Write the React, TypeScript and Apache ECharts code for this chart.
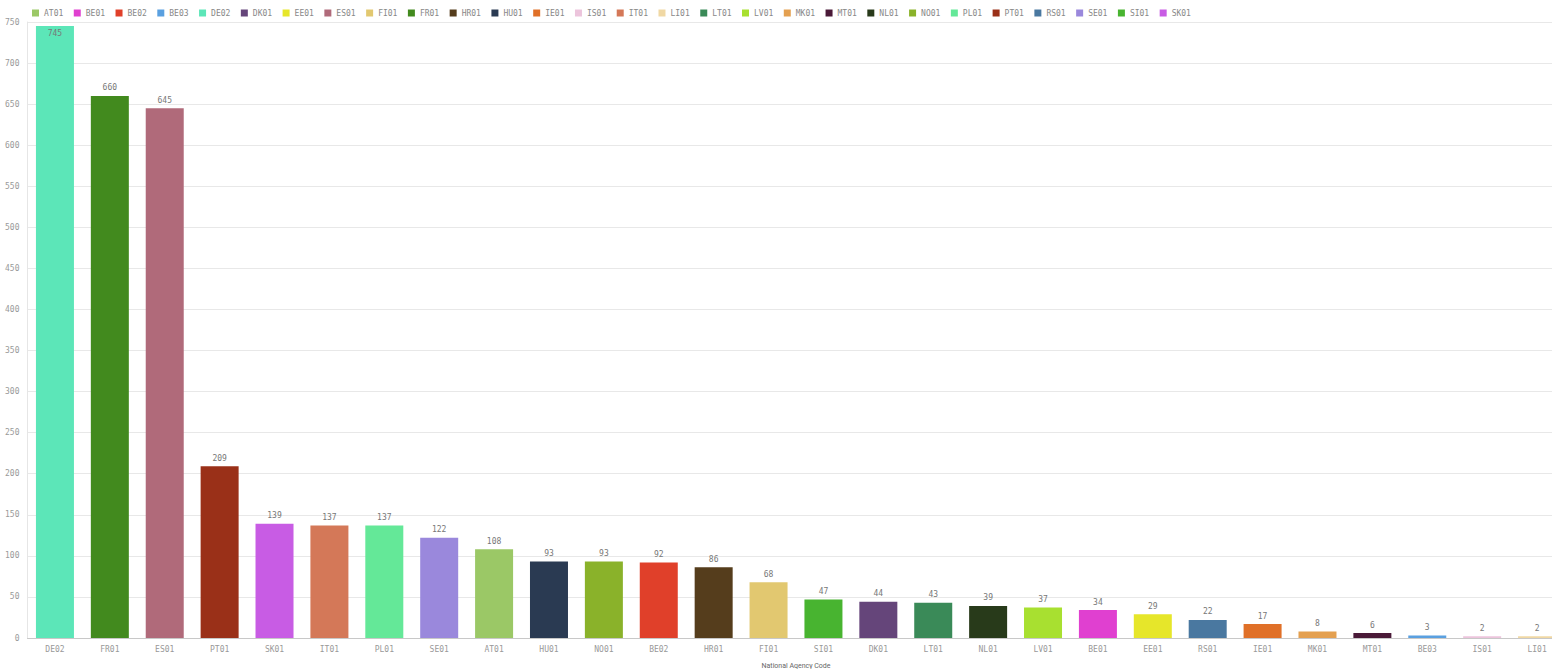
import React, { useEffect, useRef } from "react";
import * as echarts from "echarts";

const categories = ["DE02","FR01","ES01","PT01","SK01","IT01","PL01","SE01","AT01","HU01","NO01","BE02","HR01","FI01","SI01","DK01","LT01","NL01","LV01","BE01","EE01","RS01","IE01","MK01","MT01","BE03","IS01","LI01"];
const values = [745,660,645,209,139,137,137,122,108,93,93,92,86,68,47,44,43,39,37,34,29,22,17,8,6,3,2,2];
const legendCodes = ["AT01","BE01","BE02","BE03","DE02","DK01","EE01","ES01","FI01","FR01","HR01","HU01","IE01","IS01","IT01","LI01","LT01","LV01","MK01","MT01","NL01","NO01","PL01","PT01","RS01","SE01","SI01","SK01"];
const legendColors = ["#9bc866","#e040d0","#e0402a","#5aa0e0","#5ce6b8","#65457a","#e6e62a","#b06a7a","#e2c870","#428a1e","#553d1c","#2a3a52","#e07028","#ecc4dc","#d47858","#f0d8a4","#3a8a58","#a8e030","#e4a050","#4a1a38","#283a1a","#8ab22a","#64e898","#9a3018","#4a78a0","#9a88dc","#48b430","#c85ce4"];
const yTicks = { min: 0, max: 750, interval: 50 };

export default function App() {
  const ref = useRef<HTMLDivElement>(null);
  useEffect(() => {
    const chart = echarts.init(ref.current!, undefined, { renderer: "svg" });
    const series = legendCodes.map((code, i) => {
      const idx = categories.indexOf(code);
      const data = categories.map((_, j) => (j === idx ? values[j] : null));
      const inside = values[idx] >= 740;
      return {
        name: code,
        type: "bar",
        stack: "all",
        barWidth: 38,
        data,
        itemStyle: { color: legendColors[i] },
        label: {
          show: true,
          position: inside ? "insideTop" : "top",
          distance: inside ? 3 : 4,
          fontFamily: "DejaVu Sans Mono",
          fontSize: 8,
          color: "#777",
        },
      };
    });
    chart.setOption({
      animation: false,
      legend: {
        data: legendCodes,
        left: 27,
        top: 4,
        icon: "rect",
        itemWidth: 7,
        itemHeight: 7,
        itemGap: 10.5,
        textStyle: { fontFamily: "DejaVu Sans Mono", fontSize: 8, color: "#888" },
      },
      grid: { left: 27.5, right: -12.5, top: 22, bottom: 31, outerBoundsMode: "none", containLabel: false },
      xAxis: {
        type: "category",
        data: categories,
        name: "National Agency Code",
        nameLocation: "middle",
        nameGap: 24,
        nameTextStyle: { fontFamily: "Roboto", fontSize: 7, color: "#666" },
        axisLine: { lineStyle: { color: "#c8c8c8" } },
        axisTick: { show: false },
        axisLabel: { fontFamily: "DejaVu Sans Mono", fontSize: 8, color: "#999", margin: 7, interval: 0 },
      },
      yAxis: {
        type: "value",
        min: yTicks.min,
        max: yTicks.max,
        interval: yTicks.interval,
        axisLine: { show: true, lineStyle: { color: "#e6e6e6" } },
        axisTick: { show: false },
        axisLabel: { fontFamily: "DejaVu Sans Mono", fontSize: 8, color: "#999", margin: 8 },
        splitLine: { lineStyle: { color: "#e8e8e8" } },
      },
      series,
    });
    return () => chart.dispose();
  }, []);
  return (
    <div
      ref={ref}
      style={{ position: "fixed", left: 0, top: 0, width: 1552, height: 669, background: "#fff" }}
    />
  );
}
